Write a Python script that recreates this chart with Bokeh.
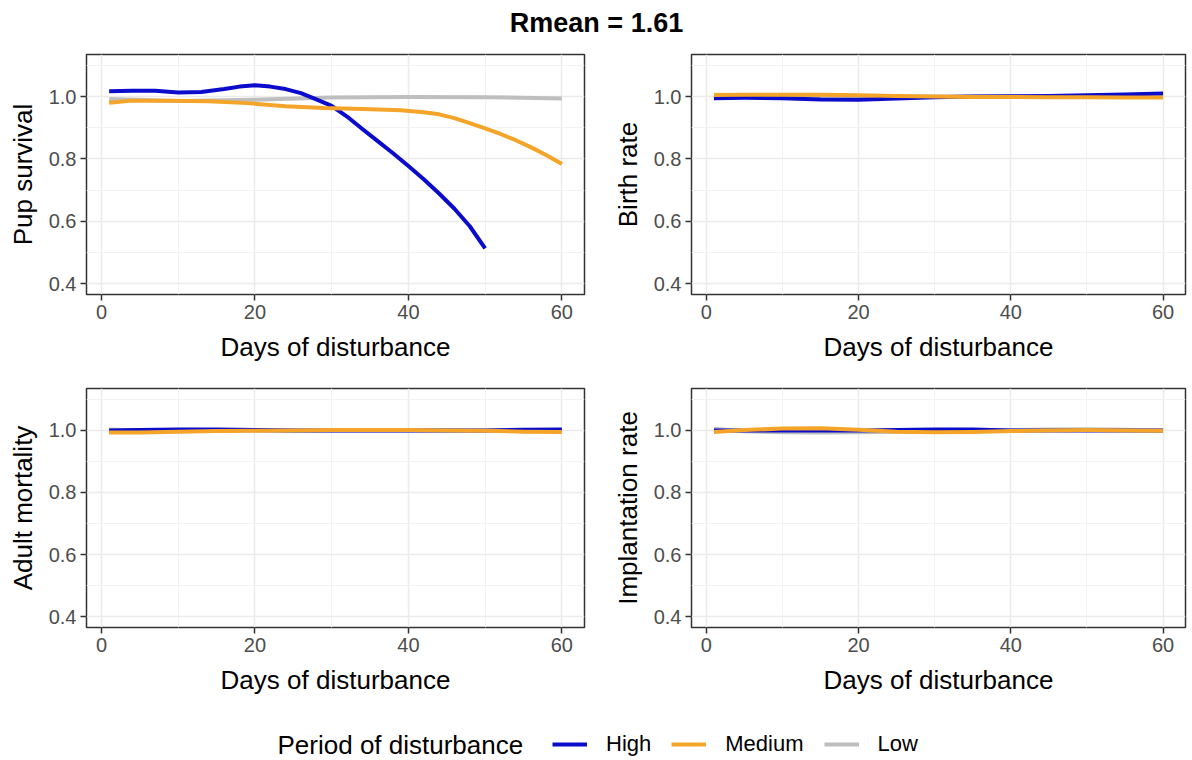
from bokeh.plotting import figure
from bokeh.layouts import column, row
from bokeh.models import (Range1d, FixedTicker, Legend, LegendItem, Label,
                          CustomJSTickFormatter)
from bokeh.embed import file_html
from bokeh.resources import INLINE

# ---------------- data ----------------
title_text = "Rmean = 1.61"
x_label = "Days of disturbance"
panel_labels = ["Pup survival", "Birth rate", "Adult mortality", "Implantation rate"]
series_names = ["High", "Medium", "Low"]
legend_title = "Period of disturbance"
x_ticks = [0, 20, 40, 60]
x_minor = [10, 30, 50]
y_ticks = [0.4, 0.6, 0.8, 1.0]
y_minor = [0.5, 0.7, 0.9, 1.1]

# Pup survival
pup_high_days = [1, 4, 7, 10, 13, 16, 18, 20, 22, 24, 26, 28, 30, 32, 34, 36, 38, 40,
                 42, 44, 46, 48, 50]
pup_high = [1.017, 1.019, 1.019, 1.013, 1.015, 1.024, 1.032, 1.036, 1.032, 1.024, 1.011,
            0.991, 0.970, 0.936, 0.896, 0.857, 0.818, 0.777, 0.735, 0.689, 0.640,
            0.584, 0.513]
pup_medium_days = [1, 4, 9, 14, 19, 24, 29, 34, 39, 42, 44, 46, 48, 50, 52, 54, 56, 58, 60]
pup_medium = [0.980, 0.987, 0.987, 0.985, 0.979, 0.969, 0.963, 0.960, 0.956, 0.950,
              0.943, 0.931, 0.915, 0.898, 0.880, 0.860, 0.837, 0.812, 0.784]
pup_low_days = [1, 10, 20, 30, 40, 50, 60]
pup_low = [0.992, 0.986, 0.990, 0.997, 0.999, 0.998, 0.994]

# the other three panels
flat_days = [1, 5, 10, 15, 20, 25, 30, 35, 40, 45, 50, 55, 60]
birth_high = [0.995, 0.996, 0.995, 0.991, 0.990, 0.994, 0.998, 1.000, 1.001, 1.002, 1.004, 1.007, 1.010]
birth_medium = [1.005, 1.006, 1.006, 1.006, 1.004, 1.002, 1.000, 0.999, 0.999, 0.998, 0.998, 0.997, 0.997]
birth_low = [1.000, 0.999, 0.999, 0.998, 0.998, 0.999, 1.000, 1.000, 1.000, 1.000, 1.001, 1.001, 1.001]

adult_high = [1.000, 1.001, 1.003, 1.003, 1.001, 1.000, 1.000, 1.000, 1.000, 1.000, 1.000, 1.002, 1.003]
adult_medium = [0.993, 0.993, 0.996, 0.998, 0.999, 1.000, 1.001, 1.001, 1.001, 1.000, 0.999, 0.996, 0.995]
adult_low = [1.003, 1.000, 0.999, 0.999, 1.000, 1.000, 1.000, 1.000, 1.000, 1.000, 1.000, 1.000, 1.000]

impl_high = [1.000, 1.000, 1.000, 1.000, 1.000, 1.001, 1.003, 1.003, 1.000, 1.000, 1.000, 1.000, 1.000]
impl_medium = [0.995, 1.001, 1.006, 1.007, 1.002, 0.996, 0.994, 0.995, 0.998, 1.000, 1.001, 1.000, 0.999]
impl_low = [1.005, 0.997, 0.994, 0.993, 0.994, 0.996, 0.997, 0.999, 1.001, 1.003, 1.004, 1.002, 1.000]

# ---------------- style ----------------
COL = {"High": "#0B0BCC", "Medium": "#F4A428", "Low": "#BEBEBE"}
FONT = "Liberation Sans"
LW = 4

panels = [
    (panel_labels[0], {"High": (pup_high_days, pup_high),
                       "Medium": (pup_medium_days, pup_medium),
                       "Low": (pup_low_days, pup_low)}),
    (panel_labels[1], {"High": (flat_days, birth_high),
                       "Medium": (flat_days, birth_medium),
                       "Low": (flat_days, birth_low)}),
    (panel_labels[2], {"High": (flat_days, adult_high),
                       "Medium": (flat_days, adult_medium),
                       "Low": (flat_days, adult_low)}),
    (panel_labels[3], {"High": (flat_days, impl_high),
                       "Medium": (flat_days, impl_medium),
                       "Low": (flat_days, impl_low)}),
]

# geometry: (width, height, border_left, border_right, border_top, border_bottom)
geoms = [
    (600, 325, 86, 16, 9, 76),
    (592, 325, 91, 7, 9, 76),
    (600, 335, 86, 16, 18, 78),
    (592, 335, 91, 7, 18, 78),
]


def make_panel(label, data, geom):
    w, h, bl, br, bt, bb = geom
    p = figure(width=w, height=h, output_backend="svg", toolbar_location=None,
               x_range=Range1d(-1.95, 62.95), y_range=Range1d(0.365, 1.135),
               min_border_left=bl, min_border_right=br,
               min_border_top=bt, min_border_bottom=bb)
    p.background_fill_color = "white"
    p.border_fill_color = "white"
    p.outline_line_color = "#333333"
    p.outline_line_width = 1.5
    p.xaxis.ticker = FixedTicker(ticks=x_ticks, minor_ticks=x_minor)
    p.yaxis.ticker = FixedTicker(ticks=y_ticks, minor_ticks=y_minor)
    p.yaxis.formatter = CustomJSTickFormatter(code="return tick.toFixed(1);")
    for ax in (p.xaxis, p.yaxis):
        ax.axis_line_color = None
        ax.major_tick_line_color = "#333333"
        ax.major_tick_line_width = 1.5
        ax.major_tick_out = 6
        ax.major_tick_in = 0
        ax.minor_tick_line_color = None
        ax.major_label_text_font = FONT
        ax.major_label_text_font_size = "20px"
        ax.major_label_text_color = "#4D4D4D"
        ax.major_label_standoff = 4
        ax.axis_label_text_font = FONT
        ax.axis_label_text_font_size = "26px"
        ax.axis_label_text_font_style = "normal"
        ax.axis_label_text_color = "#000000"
    p.xaxis.axis_label = x_label
    p.xaxis.axis_label_standoff = 10
    p.yaxis.axis_label = label
    p.yaxis.axis_label_standoff = 8
    for g in (p.xgrid, p.ygrid):
        g.grid_line_color = "#EBEBEB"
        g.grid_line_width = 1.5
        g.minor_grid_line_color = "#F2F2F2"
        g.minor_grid_line_width = 1
    p.xgrid.ticker = FixedTicker(ticks=x_ticks, minor_ticks=x_minor)
    p.ygrid.ticker = FixedTicker(ticks=y_ticks, minor_ticks=y_minor)
    for name in ["Low", "High", "Medium"]:
        xs, ys = data[name]
        p.line(xs, ys, line_color=COL[name], line_width=LW, line_join="round")
    return p


figs = [make_panel(lbl, d, g) for (lbl, d), g in zip(panels, geoms)]

# title
tfig = figure(width=1192, height=45, output_backend="svg", toolbar_location=None,
              title=title_text, x_axis_location=None, y_axis_location=None,
              min_border=0, min_border_top=4, x_range=Range1d(0, 1), y_range=Range1d(0, 1))
tfig.title.align = "center"
tfig.title.text_font = FONT
tfig.title.text_font_size = "27px"
tfig.title.text_font_style = "bold"
tfig.title.text_color = "#000000"
tfig.outline_line_color = None
tfig.grid.visible = False

# legend (the key renderers hold real data but lie outside the visible range)
lfig = figure(width=1192, height=55, output_backend="svg", toolbar_location=None,
              x_axis_location=None, y_axis_location=None, min_border=0,
              x_range=Range1d(1000, 1001), y_range=Range1d(1000, 1001))
lfig.outline_line_color = None
lfig.grid.visible = False
items = []
for (lbl, d) in panels[:1]:
    for name in series_names:
        xs, ys = d[name]
        r = lfig.line(xs, ys, line_color=COL[name], line_width=LW)
        items.append(LegendItem(label=name, renderers=[r]))
leg = Legend(items=items, orientation="horizontal", location=(552, 3),
             glyph_width=35, glyph_height=26, label_height=26, label_standoff=19,
             spacing=20, padding=0, margin=0, border_line_color=None,
             background_fill_alpha=0, label_text_font=FONT,
             label_text_font_size="22px", label_text_color="#000000",
             label_text_baseline="middle")
lfig.add_layout(leg, "center")
lfig.add_layout(Label(x=277, y=16, x_units="screen", y_units="screen", text=legend_title,
                      text_font=FONT, text_font_size="26px", text_color="#000000",
                      text_baseline="middle", text_align="left"))

layout = column(tfig, row(figs[0], figs[1]), row(figs[2], figs[3]), lfig)
open("out.html", "w").write(file_html(layout, INLINE))
